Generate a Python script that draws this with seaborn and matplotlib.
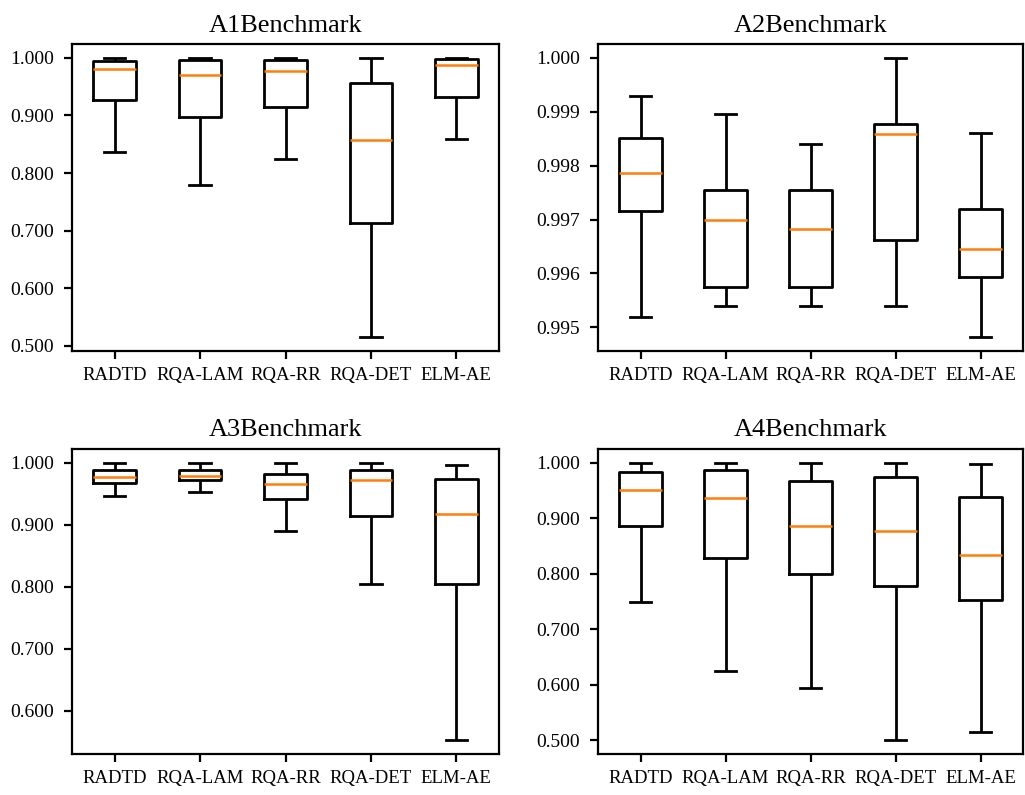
import numpy as np
import pandas as pd
import matplotlib
matplotlib.use("Agg")
import matplotlib.pyplot as plt
from matplotlib.ticker import FormatStrFormatter
import seaborn as sns

methods = ["RADTD", "RQA-LAM", "RQA-RR", "RQA-DET", "ELM-AE"]
titles = ["A1Benchmark", "A2Benchmark", "A3Benchmark", "A4Benchmark"]

# five-number summaries per method: [min, Q1, median, Q3, max]
a1_radtd = [0.837, 0.9276, 0.981, 0.9947, 1.000]
a1_lam = [0.779, 0.898, 0.970, 0.997, 1.000]
a1_rr = [0.825, 0.915, 0.978, 0.997, 1.000]
a1_det = [0.515, 0.714, 0.857, 0.957, 1.000]
a1_elm = [0.859, 0.932, 0.988, 0.998, 1.000]

a2_radtd = [0.995193, 0.997151, 0.997862, 0.998522, 0.999296]
a2_lam = [0.995387, 0.995754, 0.997001, 0.997544, 0.998953]
a2_rr = [0.995387, 0.995754, 0.996820, 0.997544, 0.998410]
a2_det = [0.995387, 0.996627, 0.998591, 0.998772, 1.000000]
a2_elm = [0.994819, 0.995941, 0.996459, 0.997188, 0.998603]

a3_radtd = [0.946, 0.968, 0.978, 0.9888, 1.000]
a3_lam = [0.953, 0.973, 0.979, 0.989, 1.000]
a3_rr = [0.890, 0.942, 0.966, 0.982, 1.000]
a3_det = [0.804, 0.914, 0.972, 0.989, 1.000]
a3_elm = [0.553, 0.805, 0.918, 0.974, 0.996]

a4_radtd = [0.749, 0.886, 0.951, 0.983, 1.000]
a4_lam = [0.624, 0.829, 0.936, 0.987, 1.000]
a4_rr = [0.594, 0.799, 0.886, 0.968, 1.000]
a4_det = [0.500, 0.778, 0.878, 0.974, 1.000]
a4_elm = [0.514, 0.753, 0.834, 0.939, 0.998]

panels = [
    [a1_radtd, a1_lam, a1_rr, a1_det, a1_elm],
    [a2_radtd, a2_lam, a2_rr, a2_det, a2_elm],
    [a3_radtd, a3_lam, a3_rr, a3_det, a3_elm],
    [a4_radtd, a4_lam, a4_rr, a4_det, a4_elm],
]

plt.rcParams["font.family"] = ["Liberation Serif", "DejaVu Serif"]

fig = plt.figure(figsize=(10.25, 7.95), dpi=100)
W, H = 1025, 795
rects = [
    (72, 44, 499, 351),
    (598, 44, 1023, 351),
    (72, 449, 499, 754),
    (598, 449, 1023, 754),
]

for rect, title, series in zip(rects, titles, panels):
    l, t, r, b = rect
    ax = fig.add_axes([l / W, 1 - b / H, (r - l) / W, (b - t) / H])
    rows = []
    for m, vals in zip(methods, series):
        for v in vals:
            rows.append((m, v))
    df = pd.DataFrame(rows, columns=["method", "value"])
    sns.boxplot(
        data=df, x="method", y="value", order=methods, ax=ax,
        fill=False, color="black", linecolor="black", width=0.5,
        whis=np.inf, showfliers=False, linewidth=2.0, capwidths=0.25,
        medianprops=dict(color="#ff7f0e", linewidth=1.8),
    )
    ax.set_xlabel("")
    ax.set_ylabel("")
    ax.set_title(title, fontsize=19, pad=9)
    ax.yaxis.set_major_formatter(FormatStrFormatter("%.3f"))
    ax.tick_params(axis="both", labelsize=14, length=6, width=1.6, color="black")
    ax.tick_params(axis="x", pad=5.5, labelsize=13.5)
    ax.tick_params(axis="y", pad=7)
    for sp in ax.spines.values():
        sp.set_linewidth(1.6)
        sp.set_color("black")

fig.savefig("out.png", dpi=100)
